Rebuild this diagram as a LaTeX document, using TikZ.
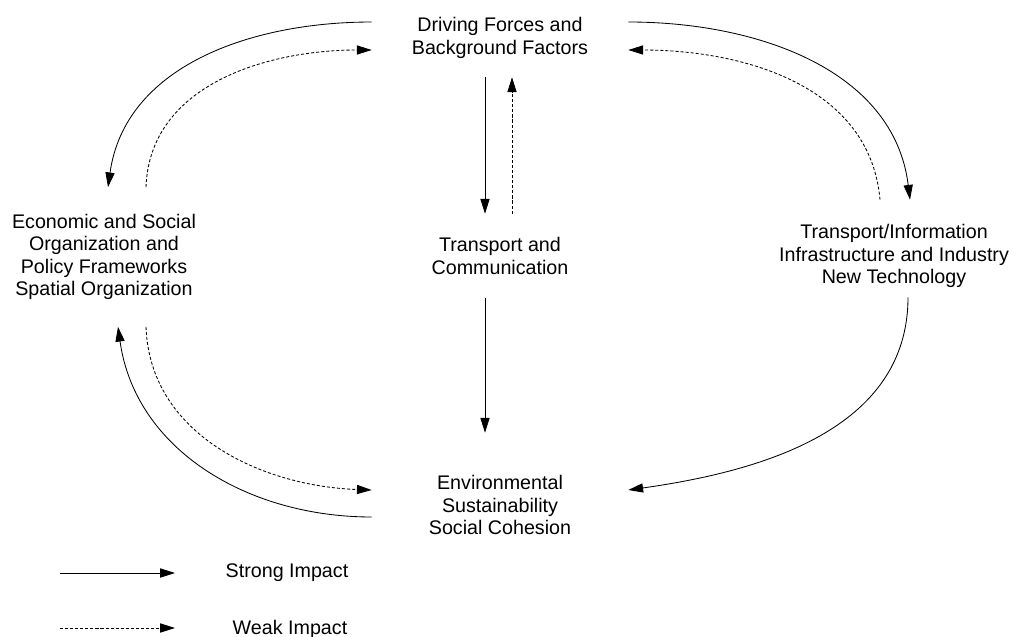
\documentclass[tikz,border=0pt]{standalone}
\usepackage{fontspec}
\setmainfont{Liberation Sans}
\usetikzlibrary{arrows.meta}

\begin{document}
\begin{tikzpicture}[x=0.025cm, y=-0.025cm,
  font=\fontsize{14}{16}\selectfont,
  every node/.style={align=center, inner sep=0pt},
  strong/.style={line width=0.6pt, -{Triangle[length=10.5pt, width=6.5pt]}},
  weak/.style={strong, dash pattern=on 2.2pt off 1.4pt}]
\useasboundingbox (0,0) rectangle (1013,637);

\node [minimum width=6.4cm, minimum height=1.95cm] (drive) at (500,38) {Driving Forces and\\Background Factors};
\node [minimum height=2.1cm] (trans) at (500,256) {Transport and\\Communication};
\node [minimum width=6.4cm, minimum height=3.6cm] (env) at (500,505) {Environmental\\Sustainability\\Social Cohesion};
\node [minimum height=3.475cm] (econ) at (104,257) {Economic and Social\\Organization and\\Policy Frameworks\\Spatial Organization};
\node [minimum height=2.8cm] (info) at (894,256) {Transport/Information\\Infrastructure and Industry\\New Technology};

% left loop
\draw ([shift={(0,-16)}]drive.west) edge [strong, out=180, in=82] ([shift={(4,0)}]econ.north);
\draw ([shift={(42,0)}]econ.north) edge [weak, out=88, in=180] ([shift={(0,12)}]drive.west);
\draw ([shift={(0,12)}]env.west) edge [strong, out=180, in=-82] ([shift={(14,0)}]econ.south);
\draw ([shift={(42,0)}]econ.south) edge [weak, out=-88, in=178] ([shift={(0,-15)}]env.west);

% middle column
\draw ([shift={(-15,0)}]drive.south) edge [strong] ([shift={(-15,0)}]trans.north);
\draw ([shift={(12,0)}]trans.north) edge [weak] ([shift={(12,0)}]drive.south);
\draw ([shift={(-15,0)}]trans.south) edge [strong] ([shift={(-15,0)}]env.north);

% right loop
\draw ([shift={(0,-16)}]drive.east) edge [strong, out=0, in=97] ([shift={(16,0)}]info.north);
\draw ([shift={(-14,0)}]info.north) edge [weak, out=95, in=0] ([shift={(0,12)}]drive.east);
\draw ([shift={(14,-15)}]info.south) edge [strong, out=-90, in=8] ([shift={(0,-15)}]env.east);

% legend
\coordinate (s1) at (60,573);
\coordinate (s2) at (175,573);
\coordinate (w1) at (60,628);
\coordinate (w2) at (175,628);
\node (strongtxt) at (287,573) {Strong Impact};
\node (weaktxt) at (290,629) {Weak Impact};
\draw (s1) edge [strong] (s2);
\draw (w1) edge [weak] (w2);
\end{tikzpicture}
\end{document}
